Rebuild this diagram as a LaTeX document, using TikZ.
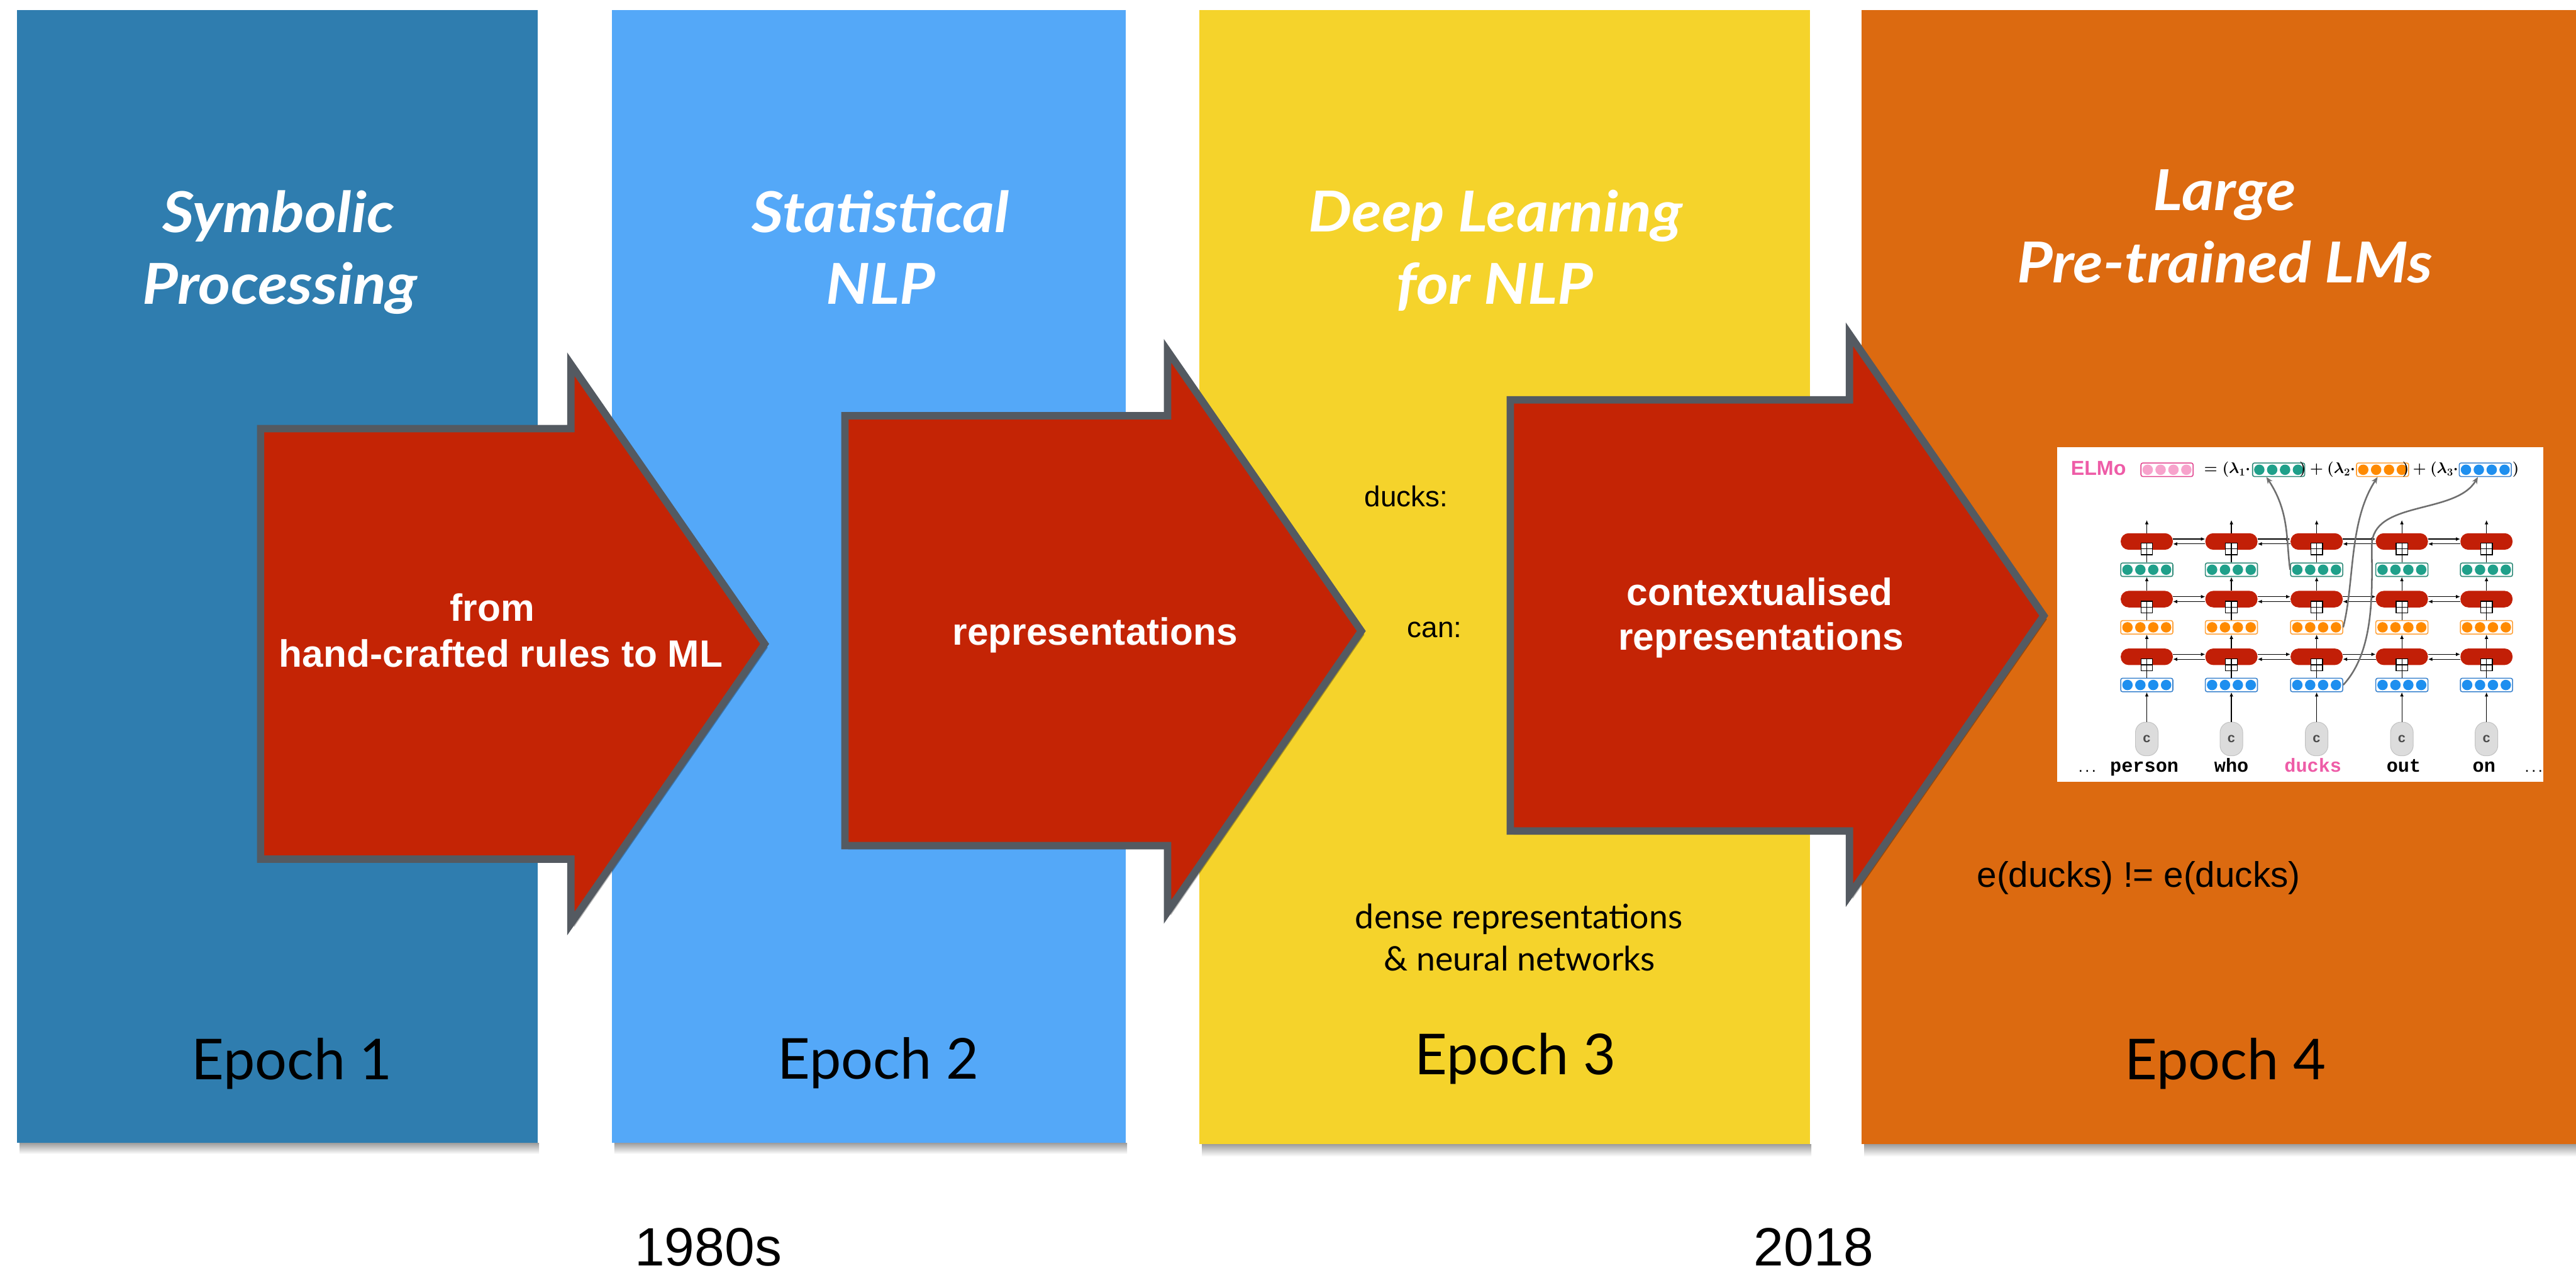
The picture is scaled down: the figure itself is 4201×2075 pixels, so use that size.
\documentclass[tikz,border=0pt]{standalone}
\usepackage{fontspec}
\usetikzlibrary{shadows,arrows.meta,calc}
\setmainfont{Liberation Sans}
\newfontfamily\latofont{Lato}
\newfontfamily\headfont{Lato}[FakeStretch=1.09]
\newfontfamily\monofont{Liberation Mono}

\definecolor{epochA}{HTML}{2F7DAF}
\definecolor{epochB}{HTML}{54A8F8}
\definecolor{epochC}{HTML}{F5D32B}
\definecolor{epochD}{HTML}{DC6A10}
\definecolor{arrowred}{HTML}{C42405}
\definecolor{arrowrim}{HTML}{545A61}
\definecolor{lstmred}{HTML}{C21F07}
\definecolor{tealv}{HTML}{1FA08A}
\definecolor{tealb}{HTML}{2E8A78}
\definecolor{orangev}{HTML}{FF8A00}
\definecolor{orangeb}{HTML}{FFA23A}
\definecolor{bluev}{HTML}{1E8FEF}
\definecolor{blueb}{HTML}{3B84CF}
\definecolor{pinkv}{HTML}{F7A3CC}
\definecolor{pinkb}{HTML}{E2458F}
\definecolor{elmopink}{HTML}{EE5CA7}
\definecolor{curvegray}{HTML}{6E6E6E}
\definecolor{tokgray}{HTML}{DCDCDC}
\definecolor{tokrim}{HTML}{C2C2C2}

\begin{document}
\begin{tikzpicture}[x=1pt,y=-1pt,
  heading/.style={text=white, inner sep=0pt, anchor=base,
    font=\headfont\bfseries\itshape\fontsize{92}{110}\selectfont},
  epochlbl/.style={inner sep=0pt, anchor=base,
    font=\latofont\fontsize{92}{110}\selectfont},
  yearlbl/.style={inner sep=0pt, anchor=base,
    font=\fontsize{88}{105}\selectfont},
  arrowlbl/.style={text=white, inner sep=0pt, anchor=base,
    font=\bfseries\fontsize{62}{74}\selectfont},
  note/.style={inner sep=0pt, anchor=base west,
    font=\fontsize{47}{56}\selectfont},
  gillnote/.style={inner sep=0pt, anchor=base,
    font=\latofont\fontsize{55}{66}\selectfont},
  panelshade/.style={top color=black!38, bottom color=white, draw=none},
  bigarrow/.style={fill=arrowred, draw=arrowrim, line width=12pt,
    miter limit=10,
    drop shadow={shadow xshift=5pt, shadow yshift=-6pt, opacity=0.3, fill=black}},
  lstm/.style={fill=lstmred, rounded corners=13pt, minimum width=85pt,
    minimum height=27pt, inner sep=0pt},
  plusbox/.style={draw=black, fill=white, line width=1.3pt, minimum size=19pt,
    inner sep=0pt,
    path picture={\draw[line width=1.3pt]
      (path picture bounding box.north) -- (path picture bounding box.south)
      (path picture bounding box.west) -- (path picture bounding box.east);}},
  vec/.style n args={2}{draw=#2, fill=white, line width=1.6pt,
    rounded corners=3pt, minimum width=85pt, minimum height=22pt, inner sep=0pt,
    path picture={\foreach \k in {-31.5,-10.5,10.5,31.5}{
      \fill[#1] ([xshift=\k pt]path picture bounding box.center) circle (8.5pt);}}},
  token/.style={fill=tokgray, draw=tokrim, line width=1pt, rounded corners=17pt,
    minimum width=37pt, minimum height=55pt, inner sep=0pt,
    font=\monofont\bfseries\fontsize{22}{24}\selectfont, text=black!70},
  word/.style={anchor=base, inner sep=0pt,
    font=\monofont\bfseries\fontsize{31}{36}\selectfont},
  dots/.style={anchor=base, inner sep=0pt,
    font=\monofont\bfseries\fontsize{18}{20}\selectfont},
  eqtxt/.style={inner sep=0pt, font=\boldmath\fontsize{26}{30}\selectfont},
  uparrow/.style={line width=1.3pt, -{Latex[length=7pt,width=6pt]}},
  harrow/.style={line width=1.3pt, -{Latex[length=7pt,width=6pt]}},
  curvearrow/.style={draw=curvegray, line width=2.6pt,
    -{Stealth[length=11pt,width=9pt]}}
]
\useasboundingbox (0,0) rectangle (4201,2075);
\fill[white] (0,0) rectangle (4201,2075);

% ---- the four epoch panels, with a soft shadow under each ----
\shade[panelshade] (32,1864) rectangle (879,1882);
\shade[panelshade] (1002,1864) rectangle (1838,1882);
\shade[panelshade] (1960,1866) rectangle (2954,1886);
\shade[panelshade] (3040,1866) rectangle (4201,1886);
\fill[epochA] (28,16) rectangle (877,1864);
\fill[epochB] (998,16) rectangle (1836,1864);
\fill[epochC] (1956,16) rectangle (2952,1866);
\fill[epochD] (3036,16) rectangle (4201,1866);

% ---- panel titles ----
\node[heading] (h1a) at (454,379) {Symbolic};
\node[heading] (h1b) at (456,496) {Processing};
\node[heading] (h2a) at (1436,379) {Statistical};
\node[heading] (h2b) at (1436,496) {NLP};
\node[heading] (h3a) at (2439,378) {Deep Learning};
\node[heading] (h3b) at (2438,496) {for NLP};
\node[heading] (h4a) at (3628,343) {Large};
\node[heading] (h4b) at (3628,461) {Pre-trained LMs};

% ---- epoch labels ----
\node[epochlbl] (ep1) at (476,1760) {Epoch 1};
\node[epochlbl] (ep2) at (1432,1759) {Epoch 2};
\node[epochlbl] (ep3) at (2471,1752) {Epoch 3};
\node[epochlbl] (ep4) at (3629,1760) {Epoch 4};

% ---- years ----
\node[yearlbl] (y1) at (1155,2064) {1980s};
\node[yearlbl] (y2) at (2958,2064) {2018};

% ---- transition arrows ----
\path[bigarrow] (425,699) -- (931,699) -- (931,594) -- (1247,1050)
  -- (931,1506) -- (931,1401) -- (425,1401) -- cycle;
\path[bigarrow] (1378,678) -- (1904,678) -- (1904,572) -- (2220,1029)
  -- (1904,1487) -- (1904,1379) -- (1378,1379) -- cycle;
\path[bigarrow] (2463,652) -- (3016,652) -- (3016,545) -- (3333,1004)
  -- (3016,1460) -- (3016,1355) -- (2463,1355) -- cycle;

\node[arrowlbl] (t1a) at (803,1013) {from};
\node[arrowlbl] (t1b) at (817,1088) {hand-crafted rules to ML};
\node[arrowlbl] (t2) at (1786,1052) {representations};
\node[arrowlbl] (t3a) at (2870,987) {contextualised};
\node[arrowlbl] (t3b) at (2872,1060) {representations};

% ---- notes in epoch 3 and 4 ----
\node[note] (n1) at (2225,826) {ducks:};
\node[note] (n2) at (2295,1039) {can:};
\node[gillnote] (n3) at (2477,1514) {dense representations};
\node[gillnote] (n4) at (2478,1583) {\& neural networks};
\node[note, font=\fontsize{58}{68}\selectfont] (n5) at (3224,1447) {e(ducks) != e(ducks)};

% ---- ELMo figure ----
\fill[white] (3355,729) rectangle (4148,1275);

\node[anchor=west, inner sep=0pt, text=elmopink,
  font=\bfseries\fontsize{33}{36}\selectfont] (elmo) at (3377,764) {ELMo};
\node[vec={pinkv}{pinkb}] (epk) at (3534,766) {};
\node[eqtxt, anchor=east] (q1) at (3670,766) {$=(\lambda_1\cdot$};
\node[vec={tealv}{tealb}] (et) at (3716,766) {};
\node[eqtxt, anchor=east] (q2) at (3841,766) {$)+(\lambda_2\cdot$};
\node[vec={orangev}{orangeb}] (eo) at (3885.5,766) {};
\node[eqtxt, anchor=east] (q3) at (4009,766) {$)+(\lambda_3\cdot$};
\node[vec={bluev}{blueb}] (eb) at (4053,766) {};
\node[eqtxt, anchor=west] (q4) at (4097,766) {$)$};

\foreach \i/\x in {1/3501,2/3639,3/3778,4/3917,5/4055}{
  \node[token] (c\i) at (\x,1205) {c};
  \node[vec={bluev}{blueb}] (vb\i) at (\x,1117) {};
  \node[vec={orangev}{orangeb}] (vo\i) at (\x,1023) {};
  \node[vec={tealv}{tealb}] (vt\i) at (\x,929) {};
  \node[lstm] (ra\i) at (\x,1071) {};
  \node[lstm] (rb\i) at (\x,977) {};
  \node[lstm] (rc\i) at (\x,883) {};
  \coordinate (o\i) at (\x,848);
  \draw[uparrow] (c\i) -- (vb\i);
  \draw[uparrow] (vb\i) -- (\x,1086);
  \draw[uparrow] (ra\i) -- (vo\i);
  \draw[uparrow] (vo\i) -- (\x,992);
  \draw[uparrow] (rb\i) -- (vt\i);
  \draw[uparrow] (vt\i) -- (\x,897);
  \draw[uparrow] (rc\i) -- (o\i);
  \node[plusbox] (pa\i) at (\x,1084) {};
  \node[plusbox] (pb\i) at (\x,990) {};
  \node[plusbox] (pc\i) at (\x,895) {};
}
\foreach \lay in {a,b,c}{
  \foreach \i/\j in {1/2,2/3,3/4,4/5}{
    \draw[harrow] ([yshift=4pt]r\lay\i.east) -- ([yshift=4pt]r\lay\j.west);
    \draw[harrow] ([yshift=-4pt]r\lay\j.west) -- ([yshift=-4pt]r\lay\i.east);
  }
}

\node[dots] (wl) at (3404,1259) {...};
\node[word] (w1) at (3497,1259) {person};
\node[word] (w2) at (3639,1259) {who};
\node[word, text=elmopink] (w3) at (3772,1259) {ducks};
\node[word] (w4) at (3920,1259) {out};
\node[word] (w5) at (4051,1259) {on};
\node[dots] (wr) at (4132,1259) {...};

\draw[curvearrow] (vt3.west) .. controls (3728,880) and (3734,835)
  .. ($(et.south)+(-20,0)$);
\draw[curvearrow] (vo3.east) .. controls (3840,950) and (3830,850)
  .. ($(eo.south)+(-8,0)$);
\draw[curvearrow] (vb3.east) .. controls (3874,1060) and (3868,960)
  .. (3868,890) .. controls (3868,815) and (4005,840)
  .. ($(eb.south)+(-12,0)$);
\end{tikzpicture}
\end{document}
